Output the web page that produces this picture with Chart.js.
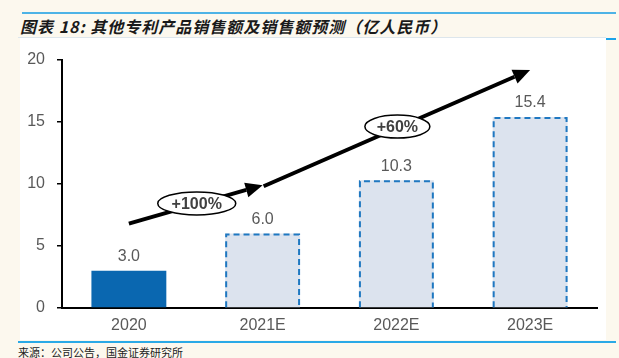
<!DOCTYPE html>
<html><head><meta charset="utf-8">
<script src="https://cdn.jsdelivr.net/npm/chart.js@4"></script>
<style>
html,body{margin:0;padding:0;background:#fcf8ee;width:619px;height:358px;overflow:hidden;position:relative;font-family:"Liberation Sans",Arial,sans-serif;}
#topline{position:absolute;left:22px;top:12px;width:594px;height:2px;background:#4db3e6;}
#title{position:absolute;left:20px;top:14px;font-family:"Noto Sans CJK SC",sans-serif;font-style:italic;font-weight:bold;font-size:16px;color:#1a1a1a;white-space:nowrap;letter-spacing:1px;}
#titleline{position:absolute;left:18px;top:37px;width:588px;height:1px;background:#dde6ec;}
#tick{position:absolute;left:606px;top:38px;width:10px;height:2px;background:#1aa3ea;}
#wrap{position:absolute;left:20px;top:38px;width:586px;height:302px;background:#fff;}
#botline{position:absolute;left:18px;top:341px;width:598px;height:2px;background:#2aa9e6;}
#src{position:absolute;left:18px;top:344px;font-family:"Noto Sans CJK SC",sans-serif;font-size:11px;color:#222;white-space:nowrap;}
</style></head>
<body>
<div id="topline"></div>
<div id="title">图表 18:&nbsp;其他专利产品销售额及销售额预测（亿人民币）</div>
<div id="titleline"></div>
<div id="tick"></div>
<div id="wrap"><canvas id="c" width="586" height="302"></canvas></div>
<div id="botline"></div>
<div id="src">来源：公司公告，国金证券研究所</div>
<script>
const categories = ["2020", "2021E", "2022E", "2023E"];
const sales = [3.0, 6.0, 10.3, 15.4];
const valueLabels = ["3.0", "6.0", "10.3", "15.4"];
const yTicks = [0, 5, 10, 15, 20];
const growthLabels = ["+100%", "+60%"];
// arrow anchor points: [category index, value]
const arrowPath = [[0, 6.8], [1, 9.9], [3, 19.2]];

const solidBlue = "#0a67b0";
const lightFill = "#dce3ee";
const dashBlue = "#1f78c1";

const overlay = {
  id: "overlay",
  afterDraw(chart) {
    const ctx = chart.ctx;
    const meta = chart.getDatasetMeta(0);
    const xs = chart.scales.x, ys = chart.scales.y;
    ctx.save();
    // dashed borders
    meta.data.forEach((bar, i) => {
      if (i === 0) return;
      const l = bar.x - bar.width / 2 + 1, r = bar.x + bar.width / 2 - 1;
      const t = bar.y + 1, b = bar.base;
      ctx.strokeStyle = dashBlue; ctx.lineWidth = 2; ctx.setLineDash([6, 4]);
      ctx.beginPath(); ctx.moveTo(l, b); ctx.lineTo(l, t); ctx.lineTo(r, t); ctx.lineTo(r, b); ctx.stroke();
    });
    ctx.setLineDash([]);
    // value labels
    ctx.fillStyle = "#595959"; ctx.font = "16px 'Liberation Sans', Arial, sans-serif";
    ctx.textAlign = "center"; ctx.textBaseline = "bottom";
    meta.data.forEach((bar, i) => { ctx.fillText(valueLabels[i], bar.x, bar.y - 6); });
    // arrows
    const pts = arrowPath.map(p => [xs.getPixelForValue(p[0]), ys.getPixelForValue(p[1])]);
    function arrow(a, b) {
      const ang = Math.atan2(b[1] - a[1], b[0] - a[0]);
      const L = 17, W = 7.5;
      const bx = b[0] - L * Math.cos(ang), by = b[1] - L * Math.sin(ang);
      ctx.strokeStyle = "#000"; ctx.lineWidth = 4; ctx.lineCap = "butt";
      ctx.beginPath(); ctx.moveTo(a[0], a[1]); ctx.lineTo(bx, by); ctx.stroke();
      ctx.fillStyle = "#000";
      ctx.beginPath(); ctx.moveTo(b[0], b[1]);
      ctx.lineTo(bx + W * Math.sin(ang), by - W * Math.cos(ang));
      ctx.lineTo(bx - W * Math.sin(ang), by + W * Math.cos(ang));
      ctx.closePath(); ctx.fill();
    }
    arrow(pts[0], pts[1]);
    arrow([pts[1][0] + 1, pts[1][1] + 1], pts[2]);
    // ellipses
    function bubble(a, b, txt, rx, ry) {
      const cx = (a[0] + b[0]) / 2 + 1, cy = (a[1] + b[1]) / 2 - 1;
      ctx.beginPath(); ctx.ellipse(cx, cy, rx, ry, 0, 0, Math.PI * 2);
      ctx.fillStyle = "#fff"; ctx.fill();
      ctx.strokeStyle = "#000"; ctx.lineWidth = 1.5; ctx.stroke();
      ctx.fillStyle = "#404040"; ctx.font = "bold 16px 'Liberation Sans', Arial, sans-serif";
      ctx.textAlign = "center"; ctx.textBaseline = "middle";
      ctx.fillText(txt, cx, cy + 1);
    }
    bubble(pts[0], pts[1], growthLabels[0], 39, 11.5);
    bubble(pts[1], pts[2], growthLabels[1], 32.5, 11.5);
    ctx.restore();
  }
};

new Chart(document.getElementById("c"), {
  type: "bar",
  data: {
    labels: categories,
    datasets: [{
      data: sales,
      backgroundColor: sales.map((v, i) => i === 0 ? solidBlue : lightFill),
      borderWidth: 0,
      categoryPercentage: 1,
      barPercentage: 0.56
    }]
  },
  options: {
    responsive: false,
    animation: false,
    devicePixelRatio: 1,
    layout: { padding: { left: 0, right: 9, top: 22, bottom: 0 } },
    plugins: { legend: { display: false }, tooltip: { enabled: false } },
    scales: {
      x: {
        z: 1,
        grid: { display: false, drawTicks: false },
        border: { display: true, color: "#000", width: 2 },
        ticks: { color: "#595959", font: { size: 16, family: "'Liberation Sans', Arial, sans-serif" }, padding: 8 },
        afterFit(s) { s.height = 32; }
      },
      y: {
        z: 1,
        min: 0, max: 20,
        afterBuildTicks(s) { s.ticks = yTicks.map(v => ({ value: v })); },
        grid: { drawOnChartArea: false, drawTicks: true, tickLength: 5, color: "#000", lineWidth: 1.5 },
        border: { display: true, color: "#000", width: 2 },
        ticks: { color: "#595959", font: { size: 16, family: "'Liberation Sans', Arial, sans-serif" }, padding: 12 },
        afterFit(s) { s.width = 42; }
      }
    }
  },
  plugins: [overlay]
});
</script>
</body></html>
